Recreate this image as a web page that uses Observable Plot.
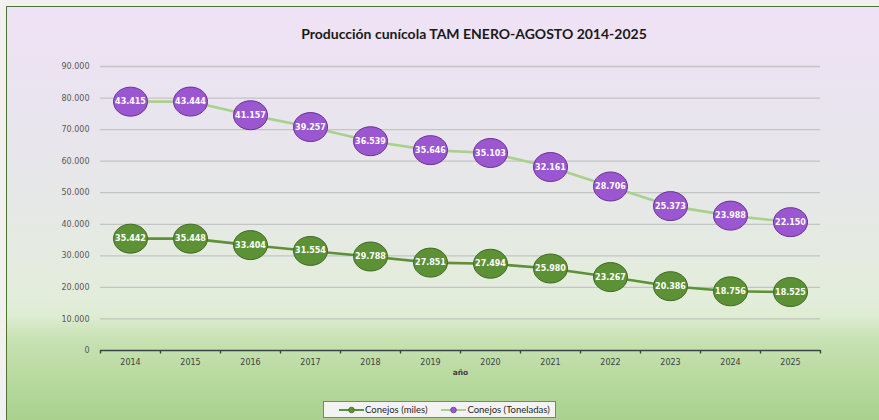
<!DOCTYPE html>
<html>
<head>
<meta charset="utf-8">
<script src="https://cdn.jsdelivr.net/npm/d3@7"></script>
<script src="https://cdn.jsdelivr.net/npm/@observablehq/plot@0.6"></script>
<style>
  html, body { margin: 0; padding: 0; background: #f1f1f1; width: 879px; height: 420px; overflow: hidden; }
  #frame {
    position: absolute; left: 6px; top: 6px; width: 900px; height: 440px;
    border: 1.5px solid #4e7431; box-sizing: border-box;
    background: linear-gradient(to bottom, #f0e2f6 0px, #e9e4ef 100px, #e6e8e6 200px, #e3eddb 290px, #dfedd4 308px, #c9e2b5 330px, #b8da9f 370px, #a9d18d 414px);
  }
  #title {
    position: absolute; left: 0; width: 948px; top: 25px; text-align: center;
    font: bold 14px Lato, sans-serif; color: #1a1a1a;
  }
  #chart { position: absolute; left: 0; top: 0; }
  #legend {
    position: absolute; left: 323px; top: 401px; width: 233px; height: 17px; box-sizing: border-box;
    border: 1px solid #7f7f7f; background: #f3f3f3;
    font: 9.5px Lato, sans-serif; color: #262626; display: flex; align-items: center;
  }
  #legend span { display: inline-flex; align-items: center; }
  #legend svg { margin-right: 1px; }
</style>
</head>
<body>
<div id="frame"></div>
<div id="title">Producción cunícola TAM ENERO-AGOSTO 2014-2025</div>
<div id="chart"></div>
<div id="legend">
  <span style="margin-left:15px"><svg width="25" height="8"><line x1="0" y1="4" x2="25" y2="4" stroke="#5d9136" stroke-width="2"/><circle cx="12.5" cy="4" r="2.8" fill="#5d9136" stroke="#3e6a22" stroke-width="0.8"/></svg>Conejos (miles)</span>
  <span style="margin-left:14px"><svg width="25" height="8"><line x1="0" y1="4" x2="25" y2="4" stroke="#a9d18e" stroke-width="2"/><circle cx="12.5" cy="4" r="2.8" fill="#9b57d0" stroke="#6b2f9a" stroke-width="0.8"/></svg>Conejos (Toneladas)</span>
</div>
<script>
const years = [2014, 2015, 2016, 2017, 2018, 2019, 2020, 2021, 2022, 2023, 2024, 2025];
const conejosMiles = [35442, 35448, 33404, 31554, 29788, 27851, 27494, 25980, 23267, 20386, 18756, 18525];
const conejosToneladas = [43415, 43444, 41157, 39257, 36539, 35646, 35103, 32161, 28706, 25373, 23988, 22150];
const yTicks = [0, 10000, 20000, 30000, 40000, 50000, 60000, 70000, 80000, 90000];

const fmt = d3.formatLocale({thousands: ".", decimal: ",", grouping: [3], currency: ["", ""]}).format(",");

// stacked line chart: second series sits on top of the first
const rows = years.map((year, i) => ({
  i, year,
  miles: conejosMiles[i],
  ton: conejosToneladas[i],
  top: conejosMiles[i] + conejosToneladas[i]
}));

const ellipse = {
  draw(ctx) {
    const rx = 17, ry = 14.5, k = 0.5523;
    ctx.moveTo(rx, 0);
    ctx.bezierCurveTo(rx, ry * k, rx * k, ry, 0, ry);
    ctx.bezierCurveTo(-rx * k, ry, -rx, ry * k, -rx, 0);
    ctx.bezierCurveTo(-rx, -ry * k, -rx * k, -ry, 0, -ry);
    ctx.bezierCurveTo(rx * k, -ry, rx, -ry * k, rx, 0);
    ctx.closePath();
  }
};

const boundaries = d3.range(years.length + 1).map(i => i - 0.5);
const centers = d3.range(years.length);

const chart = Plot.plot({
  width: 879,
  height: 390,
  marginLeft: 100,
  marginRight: 59,
  marginTop: 66,
  marginBottom: 40,
  style: {background: "transparent", fontFamily: "DejaVu Sans, sans-serif", overflow: "visible"},
  x: {type: "linear", domain: [-0.5, years.length - 0.5], axis: null},
  y: {domain: [0, 90000], axis: null},
  marks: [
    Plot.gridY(yTicks.filter(d => d > 0), {stroke: "#c4c4c4", strokeOpacity: 1, strokeWidth: 1.3}),
    Plot.axisY(yTicks, {tickSize: 0, tickPadding: 11, tickFormat: fmt, fontSize: 8, fill: "#595959", label: null}),
    Plot.ruleY([0], {stroke: "#404040", strokeWidth: 1.6}),
    Plot.axisX(boundaries, {tickSize: 3.5, tickFormat: () => "", stroke: "#404040", strokeWidth: 1.4, label: null}),
    Plot.axisX(centers, {tickSize: 0, tickPadding: 9, tickFormat: i => String(years[i]), fontSize: 8, fill: "#404040", label: null}),
    Plot.text(["año"], {frameAnchor: "bottom", dy: 24, text: d => d, fontSize: 7.5, fontWeight: "bold", fill: "#404040"}),
    Plot.line(rows, {x: "i", y: "top", stroke: "#a9d18e", strokeWidth: 2.6}),
    Plot.line(rows, {x: "i", y: "miles", stroke: "#5d9136", strokeWidth: 2.6}),
    Plot.dot(rows, {x: "i", y: "top", symbol: ellipse, fill: "#9b57d0", stroke: "#6b2f9a", strokeWidth: 1}),
    Plot.dot(rows, {x: "i", y: "miles", symbol: ellipse, fill: "#5d9136", stroke: "#3e6a22", strokeWidth: 1}),
    Plot.text(rows, {x: "i", y: "top", text: d => fmt(d.ton), fill: "white", fontWeight: "bold", fontSize: 8}),
    Plot.text(rows, {x: "i", y: "miles", text: d => fmt(d.miles), fill: "white", fontWeight: "bold", fontSize: 8})
  ]
});
document.getElementById("chart").appendChild(chart);
</script>
</body>
</html>
